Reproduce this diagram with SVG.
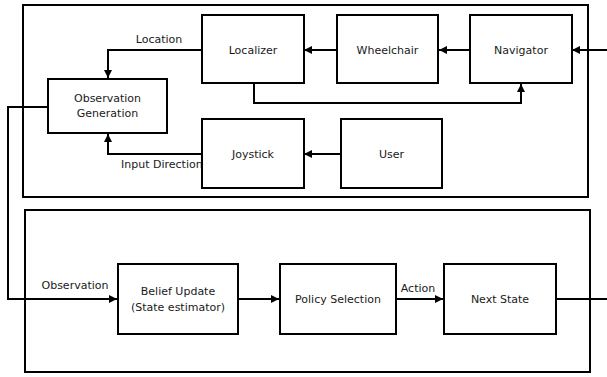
<svg xmlns="http://www.w3.org/2000/svg" width="607" height="377" viewBox="0 0 607 377">
  <style>
    .frame { fill: none; stroke: #000; stroke-width: 2; }
    .box { fill: #fff; stroke: #000; stroke-width: 2; }
    .wire { fill: none; stroke: #000; stroke-width: 2; }
    text { font-family: "DejaVu Sans", "Liberation Sans", sans-serif; font-size: 11px; fill: #1a1a1a; }
    .c { text-anchor: middle; }
  </style>
  <defs>
    <marker id="arrow" viewBox="0 0 10 10" refX="10" refY="5" markerWidth="4.2" markerHeight="4.2" orient="auto" markerUnits="strokeWidth">
      <path d="M0,0 L10,5 L0,10 Z" fill="#000"/>
    </marker>
  </defs>
  <rect width="607" height="377" fill="#fff"/>

  <!-- outer frames -->
  <rect class="frame" x="23" y="5" width="565" height="192"/>
  <rect class="frame" x="25" y="210" width="565" height="162"/>

  <g id="connectors">
    <path class="wire" d="M607,50 H572" marker-end="url(#arrow)"/>
    <path class="wire" d="M470,50 H439" marker-end="url(#arrow)"/>
    <path class="wire" d="M337,50 H304" marker-end="url(#arrow)"/>
    <path class="wire" d="M254,83 V103 H521 V84" marker-end="url(#arrow)"/>
    <path class="wire" d="M202,50 H108 V78" marker-end="url(#arrow)"/>
    <path class="wire" d="M202,154 H108 V134" marker-end="url(#arrow)"/>
    <path class="wire" d="M341,154 H304" marker-end="url(#arrow)"/>
    <path class="wire" d="M48,107 H8 V299 H117" marker-end="url(#arrow)"/>
    <path class="wire" d="M238,299 H279" marker-end="url(#arrow)"/>
    <path class="wire" d="M396,299 H443" marker-end="url(#arrow)"/>
    <path class="wire" d="M556,299 H607"/>
    <text class="c" x="159" y="43">Location</text>
    <text x="121" y="168">Input Direction</text>
    <text class="c" x="75" y="289">Observation</text>
    <text class="c" x="418" y="292">Action</text>
  </g>

  <g id="localizer">
    <rect class="box" x="202" y="15" width="102" height="68"/>
    <text class="c" x="253" y="54">Localizer</text>
  </g>
  <g id="wheelchair">
    <rect class="box" x="337" y="15" width="101" height="68"/>
    <text class="c" x="387.5" y="54">Wheelchair</text>
  </g>
  <g id="navigator">
    <rect class="box" x="470" y="15" width="102" height="68"/>
    <text class="c" x="521" y="54">Navigator</text>
  </g>
  <g id="observation-generation">
    <rect class="box" x="48" y="79" width="119" height="54"/>
    <text class="c" x="107.5" y="102">Observation</text>
    <text class="c" x="107.5" y="117">Generation</text>
  </g>
  <g id="joystick">
    <rect class="box" x="202" y="119" width="102" height="69"/>
    <text class="c" x="253" y="158">Joystick</text>
  </g>
  <g id="user">
    <rect class="box" x="341" y="119" width="101" height="69"/>
    <text class="c" x="391.5" y="158">User</text>
  </g>
  <g id="belief-update">
    <rect class="box" x="118" y="264" width="120" height="70"/>
    <text class="c" x="178" y="295">Belief Update</text>
    <text class="c" x="178" y="311">(State estimator)</text>
  </g>
  <g id="policy-selection">
    <rect class="box" x="280" y="264" width="116" height="70"/>
    <text class="c" x="338" y="303">Policy Selection</text>
  </g>
  <g id="next-state">
    <rect class="box" x="444" y="264" width="112" height="70"/>
    <text class="c" x="500" y="303">Next State</text>
  </g>
</svg>
